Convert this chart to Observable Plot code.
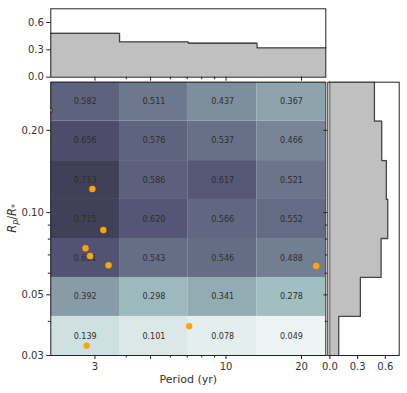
<!DOCTYPE html>
<html><head><meta charset="utf-8">
<script src="https://cdn.jsdelivr.net/npm/d3@7"></script>
<script src="https://cdn.jsdelivr.net/npm/@observablehq/plot@0.6"></script>
<style>
html,body{margin:0;padding:0;background:#fff;}
#wrap{position:relative;width:407px;height:393px;font-family:"DejaVu Sans";}
#wrap svg{position:absolute;left:0;top:0;overflow:visible;max-width:none;}
</style></head><body><div id="wrap"></div>
<script>
// ---- data ----
const periodEdges = [2, 3.76, 7.07, 13.3, 25];
const radiusEdges = [0.03, 0.0417, 0.0579, 0.0804, 0.1117, 0.155, 0.216, 0.3];
// completeness per cell, rows from smallest radius bin to largest
const completenessRows = [
  [0.139, 0.101, 0.078, 0.049],
  [0.392, 0.298, 0.341, 0.278],
  [0.631, 0.543, 0.546, 0.488],
  [0.715, 0.620, 0.566, 0.552],
  [0.713, 0.586, 0.617, 0.521],
  [0.656, 0.576, 0.537, 0.466],
  [0.582, 0.511, 0.437, 0.367]
];
const periodMarginal = [0.481, 0.387, 0.372, 0.322];
const radiusMarginal = [0.096, 0.330, 0.554, 0.626, 0.611, 0.561, 0.482];
const planetPeriod = [2.93, 3.24, 2.75, 2.87, 3.40, 2.78, 7.13, 22.9];
const planetRadius = [0.122, 0.0864, 0.0741, 0.0694, 0.0642, 0.0326, 0.0384, 0.0638];
const edgePeriod = [1.98];
const edgeRadius = [0.237];
const xMajor = [3, 5, 10, 20];
const xMinor = [4, 6, 7, 8, 9];
const yMajor = [0.03, 0.05, 0.1, 0.2];
const yMinor = [0.04, 0.06, 0.07, 0.08, 0.09];
const marginalTicks = [0, 0.3, 0.6];

// ---- matplotlib "bone_r" colormap ----
const boneSeg = {
  r: [[0, 0], [0.746032, 0.652778], [1, 1]],
  g: [[0, 0], [0.365079, 0.319444], [0.746032, 0.777778], [1, 1]],
  b: [[0, 0], [0.365079, 0.444444], [1, 1]]
};
function seg(pts, x) {
  for (let i = 1; i < pts.length; i++) {
    if (x <= pts[i][0]) {
      const [x0, y0] = pts[i - 1], [x1, y1] = pts[i];
      return y0 + (y1 - y0) * (x - x0) / (x1 - x0);
    }
  }
  return pts[pts.length - 1][1];
}
const boneR = t => {
  const x = 1 - Math.max(0, Math.min(1, t));
  return d3.rgb(255 * seg(boneSeg.r, x), 255 * seg(boneSeg.g, x), 255 * seg(boneSeg.b, x)).formatHex();
};

// ---- tables ----
const cells = [];
completenessRows.forEach((row, i) => row.forEach((v, j) => cells.push({
  x1: periodEdges[j], x2: periodEdges[j + 1], y1: radiusEdges[i], y2: radiusEdges[i + 1], v
})));
const planets = planetPeriod.map((p, i) => ({p, r: planetRadius[i]}));
const edgePts = edgePeriod.map((p, i) => ({p, r: edgeRadius[i]}));
const pBins = periodMarginal.map((v, i) => ({x1: periodEdges[i], x2: periodEdges[i + 1], v}));
const pStep = periodEdges.map((e, i) => ({x: e, v: periodMarginal[Math.min(i, periodMarginal.length - 1)]}));
const rBins = radiusMarginal.map((v, i) => ({y1: radiusEdges[i], y2: radiusEdges[i + 1], v}));
const rStep = radiusEdges.map((e, i) => ({y: e, v: radiusMarginal[Math.min(i, radiusMarginal.length - 1)]}));

const W = 407, H = 393;
const L = 50.3, R = 325.3, T = 81.7, B = 355;
const baseStyle = {fontFamily: "DejaVu Sans", fontSize: "10px", color: "#333", background: "transparent", overflow: "visible"};

const mainPlot = Plot.plot({
  width: W, height: H,
  marginLeft: L, marginRight: W - R, marginTop: T, marginBottom: H - B,
  style: baseStyle,
  x: {type: "log", domain: [2, 25]},
  y: {type: "log", domain: [0.03, 0.3]},
  color: {type: "linear", domain: [0, 1], interpolate: boneR},
  marks: [
    Plot.rect(cells, {x1: "x1", x2: "x2", y1: "y1", y2: "y2", fill: "v"}),
    Plot.text(cells, {
      x: d => Math.sqrt(d.x1 * d.x2), y: d => Math.sqrt(d.y1 * d.y2),
      text: d => d.v.toFixed(3), fill: "#2e2e2e", fontSize: 8
    }),
    Plot.dot(planets, {x: "p", y: "r", r: 3.2, fill: "#ffa500"}),
    Plot.dot(edgePts, {x: "p", y: "r", r: 2.6, fill: "white", stroke: "#111", strokeWidth: 1, clip: true}),
    Plot.frame({stroke: "#222", strokeWidth: 1}),
    Plot.axisX(xMajor, {anchor: "bottom", tickSize: 4, tickPadding: 3, tickFormat: d => String(d), fontSize: 10, label: null, stroke: "#222"}),
    Plot.axisX(xMinor, {anchor: "bottom", tickSize: 2.5, text: null, label: null, stroke: "#222"}),
    Plot.axisY(yMajor, {anchor: "left", tickSize: 4, tickPadding: 3, tickFormat: d3.format(".2f"), fontSize: 10, label: null, stroke: "#222"}),
    Plot.axisY(yMinor, {anchor: "left", tickSize: 2.5, text: null, label: null, stroke: "#222"}),
    Plot.text(["Period (yr)"], {frameAnchor: "bottom", dy: 27, lineAnchor: "bottom", fontSize: 11, fill: "#333"})
  ]
});

// y label (math style)
{
  const t = d3.select(mainPlot).append("text")
    .attr("transform", `translate(16,${(T + B) / 2}) rotate(-90)`)
    .attr("text-anchor", "middle").attr("font-size", 11.5).attr("fill", "#333")
    .attr("font-family", "DejaVu Sans");
  t.append("tspan").attr("font-style", "italic").text("R");
  t.append("tspan").attr("font-style", "italic").attr("font-size", 8).attr("dy", 2).text("p");
  t.append("tspan").attr("dy", -2).text("/");
  t.append("tspan").attr("font-style", "italic").text("R");
  t.append("tspan").attr("font-size", 8).attr("dy", 2).text("*");
}

const HT = 8.3, HB = 76.7;
const topPlot = Plot.plot({
  width: W, height: H,
  marginLeft: L, marginRight: W - R, marginTop: HT, marginBottom: H - HB,
  style: baseStyle,
  x: {type: "log", domain: [2, 25]},
  y: {domain: [0, 0.75]},
  marks: [
    Plot.rectY(pBins, {x1: "x1", x2: "x2", y: "v", fill: "#c0c0c0", stroke: "#c0c0c0", strokeWidth: 0.6}),
    Plot.lineY(pStep, {x: "x", y: "v", curve: "step-after", stroke: "#444", strokeWidth: 1.3}),
    Plot.frame({stroke: "#222", strokeWidth: 1}),
    Plot.axisY(marginalTicks, {anchor: "left", tickSize: 4, tickPadding: 3, tickFormat: d3.format(".1f"), fontSize: 10, label: null, stroke: "#222"}),
    Plot.axisX(xMajor, {anchor: "bottom", tickSize: 4, text: null, label: null, stroke: "#222"}),
    Plot.axisX(xMinor, {anchor: "bottom", tickSize: 2.5, text: null, label: null, stroke: "#222"})
  ]
});

const RL = 327.3, RR = 398.7;
const rightPlot = Plot.plot({
  width: W, height: H,
  marginLeft: RL, marginRight: W - RR, marginTop: T, marginBottom: H - B,
  style: baseStyle,
  x: {domain: [-0.022, 0.75]},
  y: {type: "log", domain: [0.03, 0.3]},
  marks: [
    Plot.rectX(rBins, {y1: "y1", y2: "y2", x: "v", fill: "#c0c0c0", stroke: "#c0c0c0", strokeWidth: 0.6}),
    Plot.lineX(rStep, {x: "v", y: "y", curve: "step-before", stroke: "#444", strokeWidth: 1.3}),
    Plot.ruleX([0], {stroke: "#777", strokeWidth: 1.3}),
    Plot.frame({stroke: "#222", strokeWidth: 1}),
    Plot.axisX(marginalTicks, {anchor: "bottom", tickSize: 4, tickPadding: 3, tickFormat: d3.format(".1f"), fontSize: 10, label: null, stroke: "#222"}),
    Plot.axisY(yMajor, {anchor: "left", tickSize: 4, text: null, label: null, stroke: "#222"}),
    Plot.axisY(yMinor, {anchor: "left", tickSize: 2.5, text: null, label: null, stroke: "#222"})
  ]
});

const wrap = document.getElementById("wrap");
wrap.appendChild(mainPlot);
wrap.appendChild(topPlot);
wrap.appendChild(rightPlot);
</script></body></html>
